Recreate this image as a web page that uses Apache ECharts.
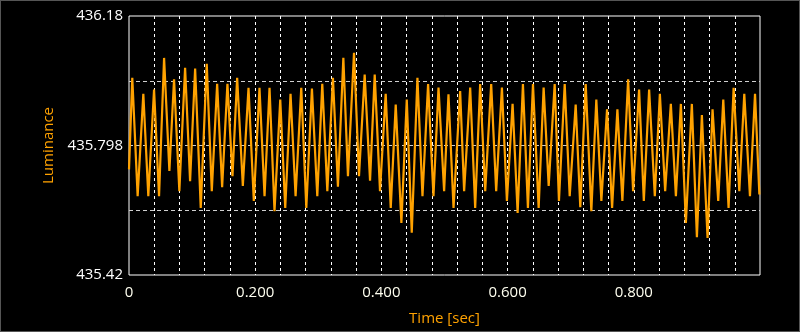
<!DOCTYPE html>
<html>
<head>
<meta charset="utf-8">
<script src="https://cdn.jsdelivr.net/npm/echarts@6/dist/echarts.min.js"></script>
<style>
html,body{margin:0;padding:0;background:#000;}
#chart{width:800px;height:332px;box-sizing:border-box;border:1px solid #555;background:#000;}
</style>
</head>
<body>
<div id="chart"></div>
<script>
// Time (s) of each read sample (peaks and troughs of the trace)
const timeSec = [
0.000,0.0052,0.0137,0.0227,0.0306,0.0397,0.0476,0.0556,0.0640,0.0714,
0.0798,0.0889,0.0968,0.1048,0.1137,0.1232,0.1312,0.1397,0.1476,0.1560,
0.1640,0.1714,0.1804,0.1894,0.1978,0.2068,0.2148,0.2227,0.2306,0.2397,
0.2476,0.2560,0.2640,0.2730,0.2810,0.2899,0.2984,0.3063,0.3143,0.3232,
0.3311,0.3397,0.3470,0.3566,0.3645,0.3735,0.3820,0.3894,0.3978,0.4068,
0.4148,0.4227,0.4317,0.4402,0.4481,0.4571,0.4651,0.4740,0.4825,0.4905,
0.4994,0.5063,0.5143,0.5248,0.5311,0.5407,0.5486,0.5565,0.5645,0.5740,
0.5819,0.5910,0.5989,0.6079,0.6159,0.6243,0.6322,0.6402,0.6492,0.6571,
0.6651,0.6746,0.6814,0.6905,0.6984,0.7079,0.7152,0.7238,0.7327,0.7406,
0.7486,0.7576,0.7656,0.7740,0.7819,0.7910,0.7989,0.8084,0.8159,0.8243,
0.8333,0.8413,0.8497,0.8587,0.8667,0.8746,0.8825,0.8920,0.9000,0.9079,
0.9169,0.9248,0.9338,0.9418,0.9502,0.9582,0.9672,0.9751,0.9841,0.9921,
0.9990
];
// Luminance values read at those times
const luminance = [
435.730,435.999,435.651,435.952,435.651,435.964,435.651,436.057,435.725,435.994,
435.666,436.028,435.695,436.026,435.617,436.040,435.666,435.981,435.678,435.981,
435.710,435.999,435.681,435.969,435.637,435.969,435.651,435.969,435.607,435.935,
435.617,435.952,435.651,435.969,435.617,435.967,435.651,435.981,435.666,435.999,
435.679,436.057,435.710,436.072,435.710,436.008,435.697,436.008,435.666,435.952,
435.617,435.920,435.573,435.935,435.544,435.999,435.651,435.980,435.651,435.970,
435.666,435.950,435.617,435.960,435.666,435.970,435.617,435.980,435.666,435.980,
435.666,435.970,435.637,435.922,435.602,435.980,435.617,435.980,435.617,435.970,
435.681,435.980,435.637,435.980,435.651,435.920,435.619,435.980,435.607,435.935,
435.637,435.906,435.617,435.906,435.637,435.994,435.666,435.964,435.637,435.964,
435.651,435.952,435.666,435.922,435.651,435.922,435.573,435.922,435.531,435.889,
435.529,435.906,435.637,435.935,435.617,435.969,435.666,435.952,435.651,435.952,
435.656
];
// Axis tick labels
const yTickLabels = ['435.42', '', '435.798', '', '436.18'];
const xLabelTimes = ['0', '0.200', '0.400', '0.600', '0.800'];
const yMin = 435.42, yMax = 436.18;
const xMin = 0, xMax = 1, xGridStep = 0.04, xLabelStep = 0.2;

const chart = echarts.init(document.getElementById('chart'), null, {renderer: 'canvas'});
const font = '"Open Sans", "Noto Sans", sans-serif';
const orange = '#ffa200';

chart.setOption({
  backgroundColor: '#000',
  animation: false,
  grid: {left: 128, right: 39, top: 15, bottom: 56, show: true, borderColor: '#ffffff', borderWidth: 1, backgroundColor: 'transparent'},
  xAxis: {
    type: 'value', min: xMin, max: xMax, interval: xGridStep,
    name: 'Time [sec]', nameLocation: 'middle', nameGap: 36,
    nameTextStyle: {color: orange, fontSize: 15, fontFamily: font},
    axisLine: {show: false}, axisTick: {show: false},
    axisLabel: {
      color: '#fffff0', fontSize: 15, fontFamily: font, margin: 10,
      showMaxLabel: false,
      formatter: function (v) {
        const k = Math.round(v / xLabelStep * 1000) / 1000;
        if (Math.abs(k - Math.round(k)) < 1e-6 && Math.round(k) < xLabelTimes.length) return xLabelTimes[Math.round(k)];
        return '';
      }
    },
    splitLine: {show: true, showMinLine: false, showMaxLine: false, lineStyle: {color: '#ffffff', type: [3, 3], width: 1}}
  },
  yAxis: [
    {
      type: 'value', min: yMin, max: yMax, position: 'left',
      axisLine: {show: false}, axisTick: {show: false}, axisLabel: {show: false}, splitLine: {show: false}
    },
    {
      type: 'value', min: 0, max: 4, interval: 1, position: 'left',
      name: 'Luminance', nameLocation: 'middle', nameGap: 55, nameRotate: 90,
      nameTextStyle: {color: orange, fontSize: 15, fontFamily: font},
      axisLine: {show: false}, axisTick: {show: false},
      axisLabel: {color: '#ffffff', fontSize: 15, fontFamily: font, margin: 6,
        formatter: function (v) { return yTickLabels[Math.round(v)] || ''; }},
      splitLine: {show: true, showMinLine: false, showMaxLine: false, lineStyle: {color: '#d0d0d0', type: [4, 3], width: 1}}
    }
  ],
  series: [{
    type: 'line', yAxisIndex: 0, showSymbol: false, symbol: 'none',
    data: timeSec.map((t, i) => [t, luminance[i]]),
    lineStyle: {color: orange, width: 2.2},
    itemStyle: {color: orange}
  }]
});
</script>
</body>
</html>
